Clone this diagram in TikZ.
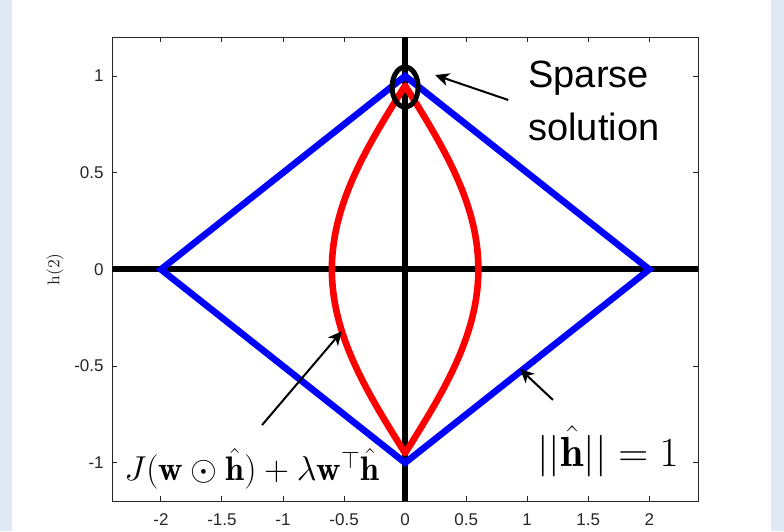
\documentclass[tikz,border=0pt]{standalone}
\usepackage{amsmath,amssymb}
\usepackage{fontspec}
\newfontfamily\plotfont{Liberation Sans}
\usetikzlibrary{arrows.meta}
\definecolor{panelblue}{RGB}{222,233,245}
\definecolor{axisgray}{RGB}{38,38,38}

\begin{document}
\begin{tikzpicture}[
  x=61.05pt, y=96.7pt,
  ticklabel/.style = {font=\plotfont\fontsize{8.5}{9}\selectfont, text=axisgray, inner sep=0pt},
  thickaxis/.style = {line width=3pt, black},
  curve/.style = {line width=3.3pt},
  pointer/.style = {-{Stealth[length=7pt, width=6.5pt, inset=2pt]}, line width=1pt},
  mathlabel/.style = {inner sep=0pt, anchor=base west}
  ]

% panel and margins
\useasboundingbox (-3.318,-1.353) rectangle (3.103,1.393);
\fill[panelblue] (-3.318,-1.353) rectangle (3.103,1.393);
\fill[white] (-3.220,-1.353) rectangle (2.997,1.393);

% axes box and ticks
\draw[axisgray, line width=0.5pt] (-2.4,-1.2) rectangle (2.4,1.2);
\foreach \t [count=\i] in {-2,-1.5,-1,-0.5,0,0.5,1,1.5,2} {
  \draw[axisgray, line width=0.5pt] (\t,-1.2) -- ++(0,2.5pt) (\t,1.2) -- ++(0,-2.5pt);
  \node[ticklabel, anchor=base] (xtick\i) at (\t,-1.322) {\t};
}
\foreach \t [count=\i] in {-1,-0.5,0,0.5,1} {
  \draw[axisgray, line width=0.5pt] (-2.4,\t) -- ++(2.5pt,0) (2.4,\t) -- ++(-2.5pt,0);
  \node[ticklabel, anchor=east] (ytick\i) at (-2.466,\t) {\t};
}
\node[rotate=90, inner sep=0pt, font=\fontsize{8.5}{9}\selectfont, text=axisgray] (ylabel) at (-2.867,0) {h(2)};

% coordinate axes
\draw[thickaxis] (-2.4,0) -- (2.4,0);
\draw[thickaxis] (0,-1.2) -- (0,1.2);

% level curve and unit ball
\draw[curve, red, line join=round]
  plot[variable=\s, domain=-0.95:0.95, samples=80] ({0.6*cos(90*\s/0.95)},\s)
  -- plot[variable=\s, domain=0.95:-0.95, samples=80] ({-0.6*cos(90*\s/0.95)},\s) -- cycle;
\draw[curve, blue, line join=miter] (2,0) -- (0,1) -- (-2,0) -- (0,-1) -- cycle;

% sparse point
\draw[line width=2.5pt] (0,0.943) ellipse [x radius=6.5pt, y radius=10pt];

% labels
\node[font=\plotfont\fontsize{19}{26.5}\selectfont, align=left, anchor=base west, inner sep=0pt] (sparse) at (1.0065,0.669) {Sparse\\solution};
\node[mathlabel, font=\fontsize{17}{19}\selectfont] (objective) at (-2.302,-1.094) {$J(\mathbf{w}\odot\hat{\mathbf{h}}) + \lambda\mathbf{w}^\top\hat{\mathbf{h}}$};
\node[mathlabel, font=\fontsize{21}{23}\selectfont] (unitnorm) at (1.080,-1.0166) {$||\hat{\mathbf{h}}||=1$};

% pointers
\coordinate (sparsetail) at (0.845,0.876);
\coordinate (sparsetip) at (0.245,1.005);
\coordinate (objtail) at (-1.172,-0.805);
\coordinate (objtip) at (-0.517,-0.319);
\coordinate (normtail) at (1.211,-0.675);
\coordinate (normtip) at (0.941,-0.515);
\draw[pointer] (sparsetail) -- (sparsetip);
\draw[pointer] (objtail) -- (objtip);
\draw[pointer] (normtail) -- (normtip);

\end{tikzpicture}
\end{document}
